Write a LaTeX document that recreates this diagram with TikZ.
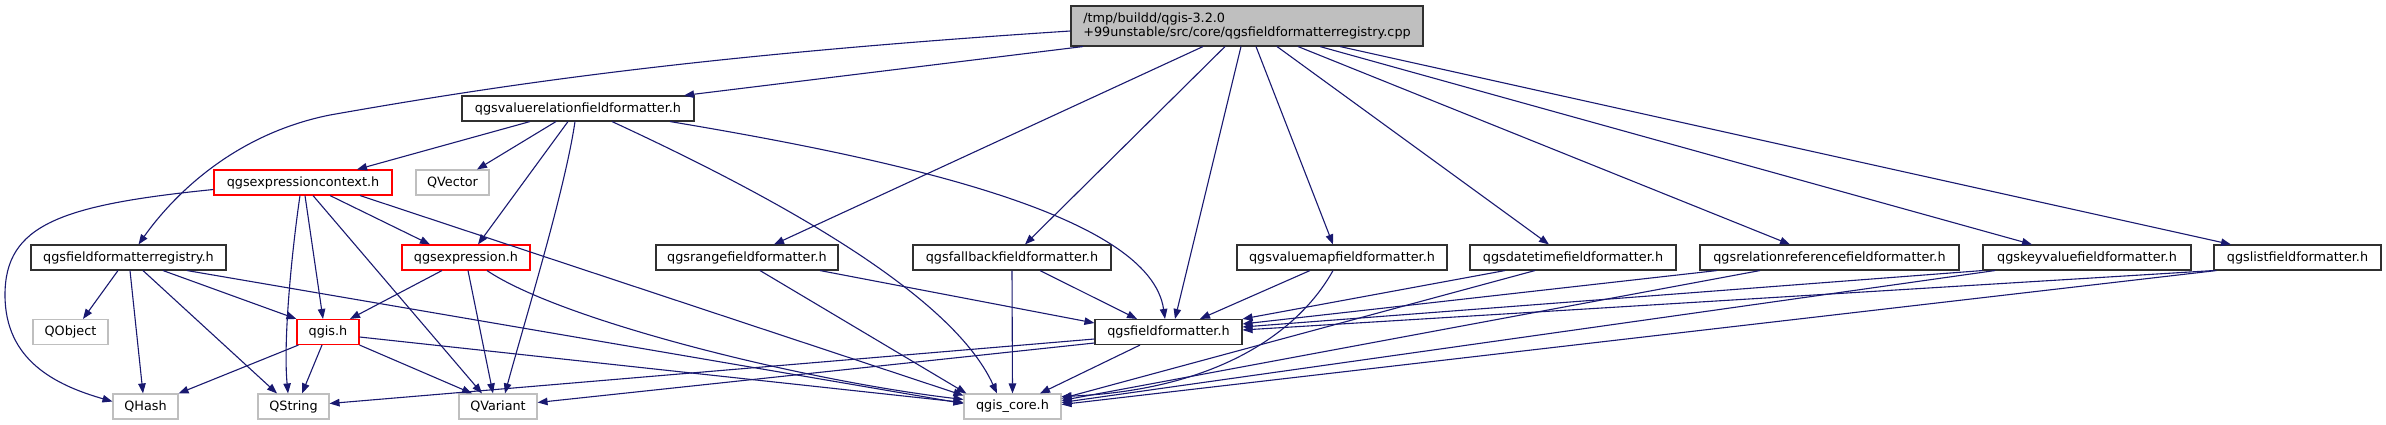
\documentclass[tikz,border=0pt]{standalone}
\usepackage{fontspec}
\setmainfont{DejaVu Sans}
\usetikzlibrary{arrows.meta,calc}
\definecolor{edgeblue}{HTML}{191970}
\definecolor{greysf}{HTML}{BFBFBF}
\definecolor{boxline}{HTML}{303030}
\begin{document}
\begin{tikzpicture}[x=1pt,y=-1pt,
  box/.style={draw=boxline,line width=1.1pt,fill=white,inner sep=0pt,minimum height=25pt,font=\fontsize{12.8}{14.5}\selectfont},
  redbox/.style={box,draw=red},
  extbox/.style={box,draw=greysf},
  edge/.style={draw=edgeblue,line width=1.1pt,-{Triangle[length=10pt,width=7.5pt]}},
]
\useasboundingbox[fill=white] (0,0) rectangle (2386,425);

% nodes
\node[box,fill=greysf,minimum width=352pt,minimum height=40pt,align=left] (cpp) at (1247,26) {/tmp/buildd/qgis-3.2.0\\+99unstable/src/core/qgsfieldformatterregistry.cpp};
\node[box,minimum width=232pt] (vrel) at (578,108.5) {qgsvaluerelationfieldformatter.h};
\node[redbox,minimum width=178pt] (ctx) at (303,182.5) {qgsexpressioncontext.h};
\node[extbox,minimum width=73pt] (qvector) at (452.5,182.5) {QVector};
\node[box,minimum width=195pt] (reg) at (128.5,257.5) {qgsfieldformatterregistry.h};
\node[redbox,minimum width=128pt] (expr) at (466,257.5) {qgsexpression.h};
\node[box,minimum width=182pt] (range) at (747,257.5) {qgsrangefieldformatter.h};
\node[box,minimum width=198pt] (fallback) at (1012,257.5) {qgsfallbackfieldformatter.h};
\node[box,minimum width=210pt] (valuemap) at (1342,257.5) {qgsvaluemapfieldformatter.h};
\node[box,minimum width=206pt] (datetime) at (1573,257.5) {qgsdatetimefieldformatter.h};
\node[box,minimum width=259pt] (relref) at (1829.5,257.5) {qgsrelationreferencefieldformatter.h};
\node[box,minimum width=208pt] (keyvalue) at (2087,257.5) {qgskeyvaluefieldformatter.h};
\node[box,minimum width=167pt] (list) at (2297.5,257.5) {qgslistfieldformatter.h};
\node[extbox,minimum width=75pt] (qobject) at (70.5,332) {QObject};
\node[redbox,minimum width=62pt] (qgis) at (328,332) {qgis.h};
\node[box,minimum width=147pt] (ff) at (1168.5,332) {qgsfieldformatter.h};
\node[extbox,minimum width=65pt] (qhash) at (145.5,406.5) {QHash};
\node[extbox,minimum width=71pt] (qstring) at (293.5,406.5) {QString};
\node[extbox,minimum width=78pt] (qvariant) at (498,406.5) {QVariant};
\node[extbox,minimum width=97pt] (core) at (1012.5,406.5) {qgis\_core.h};

% from cpp
\draw[edge] ($(cpp.west)+(0,5)$) .. controls (700,55) and (500,85) .. (330,115) .. controls (230,135) and (170,200) .. ($(reg.north)+(10,0)$);
\draw[edge] ($(cpp.south)+(-164,0)$) -- ($(vrel.north)+(106,0)$);
\draw[edge] ($(cpp.south)+(-44,0)$) -- ($(range.north)+(27,0)$);
\draw[edge] ($(cpp.south)+(-22,0)$) -- ($(fallback.north)+(13,0)$);
\draw[edge] ($(cpp.south)+(-6,0)$) -- ($(ff.north)+(6.5,0)$);
\draw[edge] ($(cpp.south)+(9,0)$) -- ($(valuemap.north)+(-9,0)$);
\draw[edge] ($(cpp.south)+(30,0)$) -- ($(datetime.north)+(-24,0)$);
\draw[edge] ($(cpp.south)+(51,0)$) -- ($(relref.north)+(-39.5,0)$);
\draw[edge] ($(cpp.south)+(73,0)$) -- ($(keyvalue.north)+(-55,0)$);
\draw[edge] ($(cpp.south)+(93,0)$) -- ($(list.north)+(-66.5,0)$);

% from vrel
\draw[edge] ($(vrel.south)+(-48,0)$) -- ($(ctx.north)+(54,0)$);
\draw[edge] ($(vrel.south)+(-22,0)$) -- ($(qvector.north)+(24.5,0)$);
\draw[edge] ($(vrel.south)+(-10,0)$) -- ($(expr.north)+(12,0)$);
\draw[edge] ($(vrel.south)+(-3,0)$) .. controls (565,190) and (525,320) .. ($(qvariant.north)+(7,0)$);
\draw[edge] ($(vrel.south)+(34,0)$) .. controls (760,190) and (950,290) .. ($(core.north)+(-15.5,0)$);
\draw[edge] ($(vrel.south)+(92,0)$) .. controls (900,160) and (1150,215) .. ($(ff.north)+(-3.5,0)$);

% from ctx
\draw[edge] ($(ctx.west)+(0,7)$) .. controls (60,205) and (5,225) .. (5,295) .. controls (5,360) and (55,385) .. ($(qhash.west)+(0,-5)$);
\draw[edge] ($(ctx.south)+(-3,0)$) .. controls (292,250) and (283,340) .. ($(qstring.north)+(-5.5,0)$);
\draw[edge] ($(ctx.south)+(2,0)$) -- ($(qgis.north)+(-5,0)$);
\draw[edge] ($(ctx.south)+(10,0)$) -- ($(qvariant.north)+(-16,0)$);
\draw[edge] ($(ctx.south)+(27,0)$) -- ($(expr.north)+(-36,0)$);
\draw[edge] ($(ctx.south)+(57,0)$) -- ($(core.west)+(0,-11)$);

% from reg
\draw[edge] ($(reg.south)+(-10.5,0)$) -- ($(qobject.north)+(12.5,0)$);
\draw[edge] ($(reg.south)+(1.5,0)$) -- ($(qhash.north)+(-2.5,0)$);
\draw[edge] ($(reg.south)+(14.5,0)$) -- ($(qstring.north)+(-16.5,0)$);
\draw[edge] ($(reg.south)+(34.5,0)$) -- (qgis.north west);
\draw[edge] ($(reg.south)+(58.5,0)$) -- ($(core.west)+(0,-3)$);

% from expr
\draw[edge] ($(expr.south)+(-24,0)$) -- ($(qgis.north)+(22,0)$);
\draw[edge] ($(expr.south)+(2,0)$) -- ($(qvariant.north)+(-5,0)$);
\draw[edge] ($(expr.south)+(21,0)$) .. controls (560,320) and (800,380) .. ($(core.west)+(0,-7)$);

% from qgis
\draw[edge] ($(qgis.south west)+(2,0)$) -- (qhash.north east);
\draw[edge] ($(qgis.south)+(-6,0)$) -- ($(qstring.north)+(8.5,0)$);
\draw[edge] (qgis.south east) -- ($(qvariant.north)+(-26,0)$);
\draw[edge] ($(qgis.east)+(0,5)$) -- ($(core.west)+(0,-4)$);

% from range
\draw[edge] ($(range.south)+(73,0)$) -- ($(ff.west)+(0,-9)$);
\draw[edge] ($(range.south)+(13,0)$) -- ($(core.north west)+(3,0)$);

% from fallback
\draw[edge] ($(fallback.south)+(28,0)$) -- ($(ff.north)+(-31.5,0)$);
\draw[edge] (fallback.south) -- (core.north);

% from valuemap
\draw[edge] ($(valuemap.south)+(-32,0)$) -- ($(ff.north)+(31.5,0)$);
\draw[edge] ($(valuemap.south)+(-9,0)$) .. controls (1300,330) and (1220,390) .. ($(core.east)+(0,-10)$);

% from datetime
\draw[edge] ($(datetime.south)+(-68,0)$) -- (ff.north east);
\draw[edge] ($(datetime.south)+(-38,0)$) -- ($(core.east)+(0,-8)$);

% from relref
\draw[edge] ($(relref.south)+(-112.5,0)$) -- ($(ff.east)+(0,-8)$);
\draw[edge] ($(relref.south)+(-69.5,0)$) -- ($(core.east)+(0,-6)$);

% from keyvalue
\draw[edge] (keyvalue.south west) -- ($(ff.east)+(0,-5)$);
\draw[edge] ($(keyvalue.south)+(-92,0)$) -- ($(core.east)+(0,-4)$);

% from list
\draw[edge] (list.south west) -- ($(ff.east)+(0,-2)$);
\draw[edge] ($(list.south west)+(3,0)$) -- ($(core.east)+(0,-2)$);

% from ff
\draw[edge] ($(ff.west)+(0,7)$) -- ($(qstring.east)+(0,-3)$);
\draw[edge] ($(ff.west)+(0,11)$) -- ($(qvariant.east)+(0,-4)$);
\draw[edge] ($(ff.south)+(-28.5,0)$) -- ($(core.north)+(27.5,0)$);
\end{tikzpicture}
\end{document}
